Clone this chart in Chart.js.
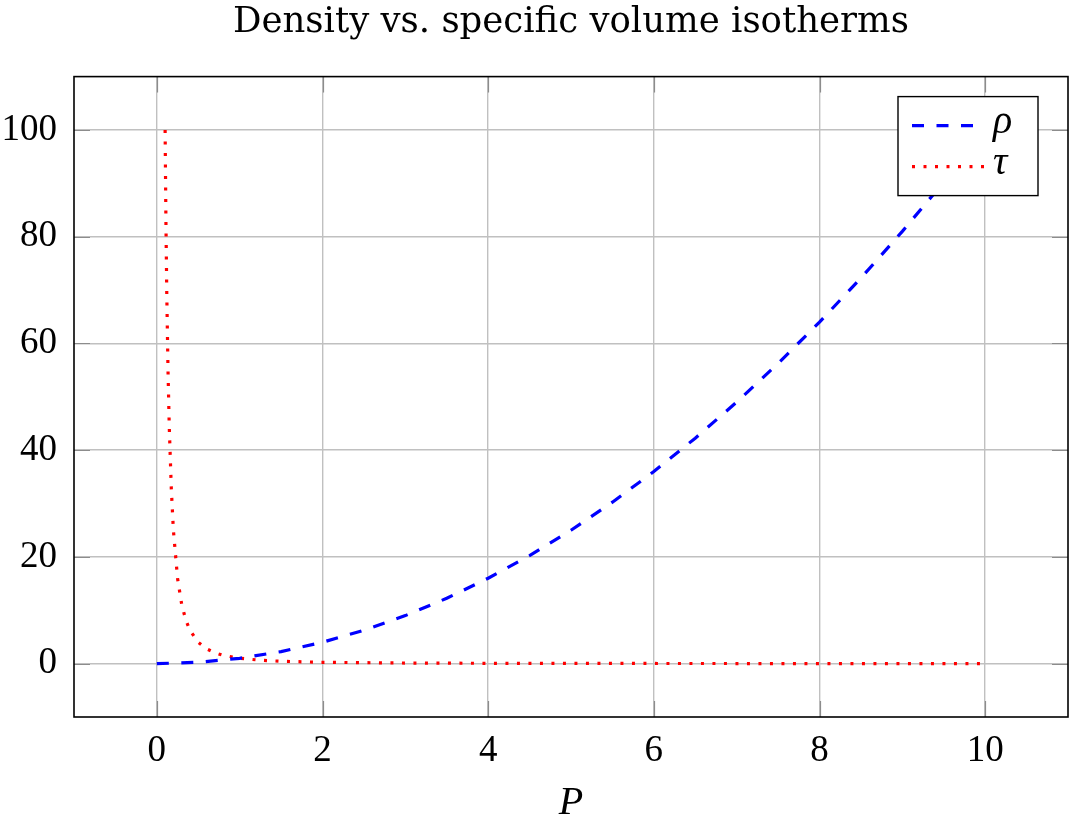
<!DOCTYPE html>
<html>
<head>
<meta charset="utf-8">
<script src="https://cdn.jsdelivr.net/npm/chart.js@4/dist/chart.umd.min.js"></script>
<style>
  html, body { margin: 0; padding: 0; background: #fff; }
  #wrap { width: 1070px; height: 823px; }
</style>
</head>
<body>
<div id="wrap"><canvas id="chart"></canvas></div>
<script>
// data
const rhoP = [0, 0.5, 1, 1.5, 2, 2.5, 3, 3.5, 4, 4.5, 5, 5.5, 6, 6.5, 7, 7.5, 8, 8.5, 9, 9.5, 10];
const rhoVals = [0, 0.25, 1, 2.25, 4, 6.25, 9, 12.25, 16, 20.25, 25, 30.25, 36, 42.25, 49, 56.25, 64, 72.25, 81, 90.25, 100];
const tauP = [0.1, 0.11, 0.12, 0.135, 0.15, 0.175, 0.2, 0.25, 0.3, 0.35, 0.4, 0.5, 0.6, 0.7, 0.8, 1, 1.25, 1.5, 2, 3, 4, 5, 6, 7, 8, 9, 10];
const tauVals = [100, 82.6, 69.4, 54.9, 44.4, 32.7, 25, 16, 11.1, 8.16, 6.25, 4, 2.78, 2.04, 1.56, 1, 0.64, 0.44, 0.25, 0.11, 0.06, 0.04, 0.03, 0.02, 0.016, 0.012, 0.01];
const xTicks = [0, 2, 4, 6, 8, 10];
const yTicks = [0, 20, 40, 60, 80, 100];

const serif = "'Liberation Serif', 'DejaVu Serif', serif";
const titleSerif = "'DejaVu Serif', 'Liberation Serif', serif";

function toPoints(xs, ys) {
    return xs.map((x, i) => ({x: x, y: ys[i]}));
}

// frame, inner tick marks and the legend box inside the plot
const framePlugin = {
    id: 'frame',
    afterDatasetsDraw(chart) {
        const ctx = chart.ctx;
        const a = chart.chartArea;
        const xs = chart.scales.x, ys = chart.scales.y;
        ctx.save();
        // ticks
        ctx.strokeStyle = '#8c8c8c';
        ctx.lineWidth = 1.2;
        const tl = 16;
        xTicks.forEach(t => {
            const px = Math.round(xs.getPixelForValue(t)) + 0.5;
            ctx.beginPath();
            ctx.moveTo(px, a.bottom); ctx.lineTo(px, a.bottom - tl);
            ctx.moveTo(px, a.top); ctx.lineTo(px, a.top + tl);
            ctx.stroke();
        });
        yTicks.forEach(t => {
            const py = Math.round(ys.getPixelForValue(t)) + 0.5;
            ctx.beginPath();
            ctx.moveTo(a.left, py); ctx.lineTo(a.left + tl, py);
            ctx.moveTo(a.right, py); ctx.lineTo(a.right - tl, py);
            ctx.stroke();
        });
        // frame
        ctx.strokeStyle = '#000';
        ctx.lineWidth = 1.6;
        ctx.strokeRect(a.left, a.top, a.right - a.left, a.bottom - a.top);

        // legend
        const bx = a.right - 30, by = a.top + 20, bw = 140, bh = 99;
        ctx.fillStyle = '#fff';
        ctx.fillRect(bx - bw, by, bw, bh);
        ctx.lineWidth = 1.4;
        ctx.strokeRect(bx - bw, by, bw, bh);
        chart.data.datasets.forEach((ds, i) => {
            const y = by + 29 + i * 41;
            ctx.strokeStyle = ds.borderColor;
            ctx.lineWidth = ds.borderWidth;
            ctx.lineCap = 'butt';
            ctx.setLineDash(ds.borderDash);
            ctx.beginPath();
            ctx.moveTo(bx - bw + 14, y);
            ctx.lineTo(bx - bw + (i === 0 ? 76 : 87), y);
            ctx.stroke();
            ctx.setLineDash([]);
            ctx.fillStyle = '#000';
            ctx.font = 'italic 40px ' + serif;
            ctx.textAlign = 'left';
            ctx.textBaseline = 'middle';
            ctx.fillText(ds.label, bx - bw + 95, y - 3);
        });
        ctx.restore();
    }
};

const ctx = document.getElementById('chart');
new Chart(ctx, {
    type: 'line',
    data: {
        datasets: [{
            label: 'ρ',
            data: toPoints(rhoP, rhoVals),
            borderColor: '#0000ff',
            borderWidth: 3.2,
            borderDash: [12, 12.5],
            pointRadius: 0,
            fill: false
        }, {
            label: 'τ',
            data: toPoints(tauP, tauVals),
            borderColor: '#ff0000',
            borderWidth: 3.2,
            borderDash: [3, 8.5],
            pointRadius: 0,
            fill: false
        }]
    },
    options: {
        responsive: true,
        maintainAspectRatio: false,
        animation: false,
        layout: {padding: {left: 0, right: 2, top: 0, bottom: 0}},
        plugins: {
            legend: {display: false},
            tooltip: {enabled: false},
            title: {
                display: true,
                fullSize: false,
                text: 'Density vs. specific volume isotherms',
                color: '#000',
                font: {family: titleSerif, size: 35.5, weight: 'normal', lineHeight: 1.2},
                padding: {top: 1, bottom: 33}
            }
        },
        scales: {
            x: {
                type: 'linear',
                min: -1,
                max: 11,
                afterFit: s => { s.height = 106; },
                afterBuildTicks: s => { s.ticks = xTicks.map(v => ({value: v})); },
                grid: {color: '#c0c0c0', lineWidth: 1.4, drawTicks: false},
                border: {display: false},
                ticks: {color: '#000', font: {family: serif, size: 37}, padding: 12, maxRotation: 0},
                title: {
                    display: true,
                    text: 'P',
                    color: '#000',
                    font: {family: serif, size: 40, style: 'italic'},
                    padding: {top: 0, bottom: -4}
                }
            },
            y: {
                type: 'linear',
                min: -10,
                max: 110,
                afterFit: s => { s.width = 74; },
                afterBuildTicks: s => { s.ticks = yTicks.map(v => ({value: v})); },
                grid: {color: '#c0c0c0', lineWidth: 1.4, drawTicks: false},
                border: {display: false},
                ticks: {color: '#000', font: {family: serif, size: 37}, padding: 17}
            }
        }
    },
    plugins: [framePlugin]
});
</script>
</body>
</html>
